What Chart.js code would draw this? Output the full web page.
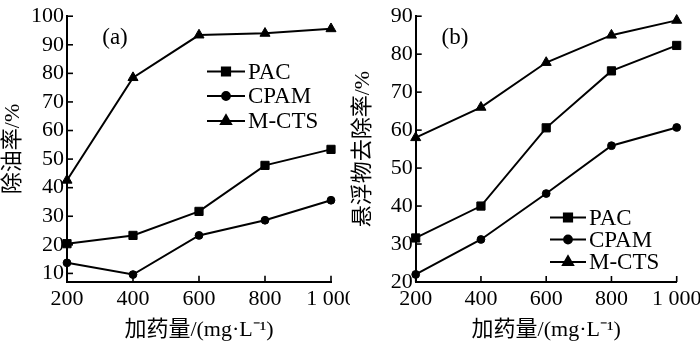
<!DOCTYPE html>
<html><head><meta charset="utf-8">
<script src="https://cdn.jsdelivr.net/npm/chart.js"></script>
<style>
html,body{margin:0;padding:0;background:#fff;width:700px;height:345px;overflow:hidden}
#wa{position:absolute;left:0;top:0;width:350px;height:345px;overflow:hidden}
#wb{position:absolute;left:350px;top:0;width:350px;height:345px;overflow:hidden}
canvas{display:block}
</style></head><body>
<div id="wa"><canvas id="ca" width="370" height="345"></canvas></div>
<div id="wb"><canvas id="cb" width="370" height="345"></canvas></div>
<script>
// ---- data ----
const doses = [200, 400, 600, 800, 1000];
const xTickLabels = ['200', '400', '600', '800', '1 000'];
const seriesNames = ['PAC', 'CPAM', 'M-CTS'];
// (a) oil removal rate %
const pacOilA  = [20.4, 23.3, 31.7, 47.8, 53.4];
const cpamOilA = [13.7, 9.6, 23.3, 28.6, 35.6];
const mctsOilA = [42.6, 78.5, 93.4, 94.0, 95.6];
const yTicksA = [10, 20, 30, 40, 50, 60, 70, 80, 90, 100];
// (b) suspended solids removal rate %
const pacSsB  = [31.6, 40.0, 60.6, 75.6, 82.3];
const cpamSsB = [22.0, 31.2, 43.3, 55.9, 60.7];
const mctsSsB = [58.0, 66.0, 77.8, 85.0, 88.9];
const yTicksB = [20, 30, 40, 50, 60, 70, 80, 90];

const SERIF = '"Liberation Serif", "Times New Roman", serif';
const MIXED = '"Liberation Serif", "Noto Sans CJK SC", serif';
const styles = [
  {pointStyle: 'rect', pointRadius: 5.8},
  {pointStyle: 'circle', pointRadius: 3.9},
  {pointStyle: 'triangle', pointRadius: 5.8}
];

function mkDatasets(arrs) {
  return arrs.map((vals, i) => ({
    label: seriesNames[i],
    data: doses.map((d, j) => ({x: d, y: vals[j]})),
    borderColor: '#000', backgroundColor: '#000',
    pointBackgroundColor: '#000', pointBorderColor: '#000',
    borderWidth: 2, pointBorderWidth: 1,
    pointStyle: styles[i].pointStyle, pointRadius: styles[i].pointRadius,
    tension: 0, clip: false
  }));
}

const inwardTicks = {
  id: 'inwardTicks',
  beforeDatasetsDraw(chart) {
    const ctx = chart.ctx, xs = chart.scales.x, ys = chart.scales.y, a = chart.chartArea;
    ctx.save(); ctx.strokeStyle = '#000'; ctx.lineWidth = 1.6;
    xs.ticks.forEach(t => { const p = xs.getPixelForValue(t.value); ctx.beginPath(); ctx.moveTo(p, a.bottom); ctx.lineTo(p, a.bottom - 6); ctx.stroke(); });
    ys.ticks.forEach(t => { const p = ys.getPixelForValue(t.value); ctx.beginPath(); ctx.moveTo(a.left, p); ctx.lineTo(a.left + 6, p); ctx.stroke(); });
    ctx.restore();
  }
};

const miniLegend = {
  id: 'miniLegend',
  afterDraw(chart, args, opts) {
    if (!opts || !opts.rows) return;
    const ctx = chart.ctx;
    ctx.save();
    chart.data.datasets.forEach((ds, i) => {
      const y = opts.rows[i];
      ctx.strokeStyle = '#000'; ctx.fillStyle = '#000'; ctx.lineWidth = 2;
      ctx.beginPath(); ctx.moveTo(opts.x0, y); ctx.lineTo(opts.x1, y); ctx.stroke();
      Chart.helpers.drawPoint(ctx, {pointStyle: ds.pointStyle, radius: ds.pointRadius, rotation: 0, borderWidth: 1}, (opts.x0 + opts.x1) / 2, y);
      ctx.font = '23px ' + SERIF; ctx.textBaseline = 'middle'; ctx.textAlign = 'left';
      ctx.fillText(ds.label, opts.tx, y + 1);
    });
    if (opts.panel) {
      ctx.font = '23px ' + SERIF; ctx.textBaseline = 'middle'; ctx.textAlign = 'center';
      ctx.fillText(opts.panel.text, opts.panel.x, opts.panel.y);
    }
    ctx.restore();
  }
};

function mkChart(id, arrs, yMin, yMax, yTicks, yTitle, geom, legend) {
  return new Chart(document.getElementById(id), {
    type: 'line',
    data: {datasets: mkDatasets(arrs)},
    plugins: [inwardTicks, miniLegend],
    options: {
      responsive: false, animation: false,
      layout: {padding: {left: 0, right: geom.padRight, top: geom.padTop, bottom: 0}},
      plugins: {legend: {display: false}, tooltip: {enabled: false}, miniLegend: legend},
      scales: {
        x: {
          type: 'linear', min: 200, max: 1000,
          afterBuildTicks: s => { s.ticks = doses.map(v => ({value: v})); },
          afterFit: s => { s.height = geom.xHeight; },
          grid: {display: false, drawTicks: false},
          border: {display: true, color: '#000', width: 2},
          ticks: {color: '#000', font: {family: SERIF, size: 22}, padding: 4, maxRotation: 0,
            callback: (v) => xTickLabels[doses.indexOf(v)]},
          title: {display: true, text: '加药量/(mg·L⁻¹)', color: '#000', font: {family: MIXED, size: 22}, padding: {top: 0, bottom: 2}}
        },
        y: {
          type: 'linear', min: yMin, max: yMax,
          afterBuildTicks: s => { s.ticks = yTicks.map(v => ({value: v})); },
          afterFit: s => { s.width = geom.yWidth; },
          grid: {display: false, drawTicks: false},
          border: {display: true, color: '#000', width: 2},
          ticks: {color: '#000', font: {family: SERIF, size: 22}, padding: 3},
          title: {display: true, text: yTitle, color: '#000', font: {family: MIXED, size: 22}, padding: 0}
        }
      }
    }
  });
}

mkChart('ca', [pacOilA, cpamOilA, mctsOilA], 7.1, 100, yTicksA, '除油率/%',
  {padRight: 39, padTop: 11.7, xHeight: 63.3, yWidth: 67},
  {x0: 207, x1: 245, tx: 248, rows: [71.5, 96, 121], panel: {text: '(a)', x: 115, y: 38}});
mkChart('cb', [pacSsB, cpamSsB, mctsSsB], 20, 90, yTicksB, '悬浮物去除率/%',
  {padRight: 43.3, padTop: 11, xHeight: 63, yWidth: 65.7},
  {x0: 200, x1: 236, tx: 239, rows: [217.5, 239.5, 262], panel: {text: '(b)', x: 105, y: 38}});
</script>
</body></html>
